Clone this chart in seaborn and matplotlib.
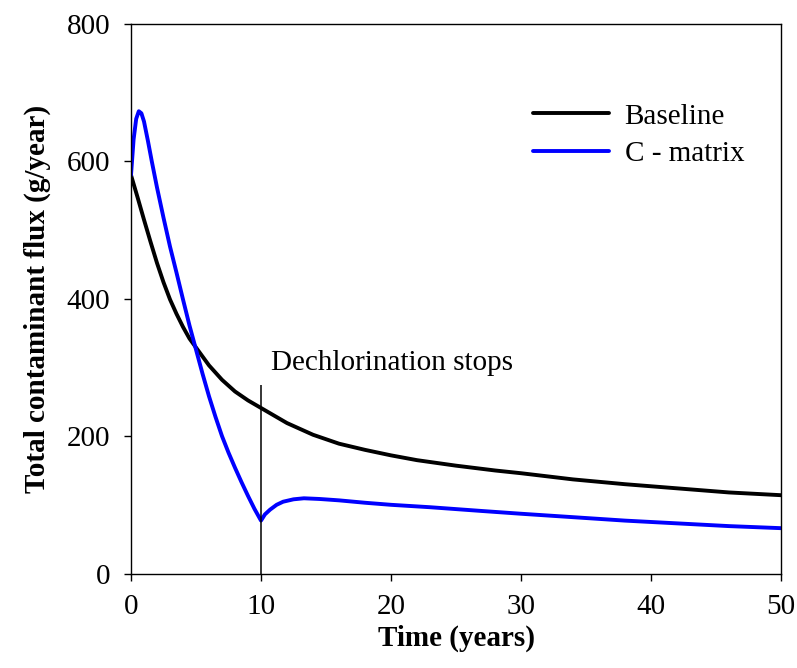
import numpy as np
import pandas as pd
import matplotlib
matplotlib.use("Agg")
import matplotlib.pyplot as plt
import seaborn as sns

# ---- data ----
time_baseline = [0, 0.5, 1, 1.5, 2, 2.5, 3, 3.5, 4, 4.5, 5, 6, 7, 8, 9, 10,
                 12, 14, 16, 18, 20, 22, 25, 28, 30, 34, 38, 42, 46, 50]
flux_baseline = [580, 548, 515, 483, 452, 424, 399, 378, 359, 342, 329, 303, 282, 265, 252, 241,
                 219, 202, 189, 180, 172, 165, 157, 150, 146, 137, 130, 124, 118, 114]

time_cmatrix = [0, 0.2, 0.4, 0.6, 0.8, 1.0, 1.3, 1.6, 2, 2.5, 3, 3.5, 4, 4.5, 5, 5.5, 6, 6.5,
                7, 7.5, 8, 8.5, 9, 9.5, 10, 10.3, 10.7, 11.2, 11.7, 12.5, 13.3, 14.5, 16, 18,
                20, 23, 27, 30, 34, 38, 42, 46, 50]
flux_cmatrix = [580, 632, 662, 673, 670, 658, 630, 600, 562, 518, 476, 438, 399, 361, 326, 291, 258, 228,
                200, 176, 154, 133, 113, 94, 77, 86, 93, 100, 104.5, 108, 109.5, 108.5, 106.5, 103,
                100, 96.5, 91, 87, 82, 77, 73, 69, 66]

series_names = ["Baseline", "C - matrix"]
event_time = 10
event_top = 275
event_label = "Dechlorination stops"

df = pd.concat([
    pd.DataFrame({"Time": time_baseline, "Flux": flux_baseline, "Series": series_names[0]}),
    pd.DataFrame({"Time": time_cmatrix, "Flux": flux_cmatrix, "Series": series_names[1]}),
], ignore_index=True)

sns.set_theme(style="ticks")
plt.rcParams["font.family"] = ["Liberation Serif", "DejaVu Serif"]
for k in ["text.color", "axes.labelcolor", "xtick.color", "ytick.color", "axes.edgecolor"]:
    plt.rcParams[k] = "black"

FS = 21
fig = plt.figure(figsize=(7.97, 6.68), dpi=100)
ax = fig.add_axes([131/797, 1 - 573.5/668, 650/797, 549.5/668])

sns.lineplot(data=df, x="Time", y="Flux", hue="Series",
             palette={"Baseline": "black", "C - matrix": "#0000ff"},
             linewidth=2.8, ax=ax, legend=True)

ax.vlines(event_time, 0, event_top, color="black", linewidth=1.1)
ax.text(10.8, 296, event_label, fontsize=FS, ha="left", va="baseline")

ax.set_xlim(0, 50)
ax.set_ylim(0, 800)
ax.set_xticks([0, 10, 20, 30, 40, 50])
ax.set_yticks([0, 200, 400, 600, 800])
ax.tick_params(axis="both", direction="out", length=5, width=1.0, labelsize=FS, color="black")
ax.tick_params(axis="y", pad=10)
ax.tick_params(axis="x", pad=10)
for s in ax.spines.values():
    s.set_visible(True)
    s.set_color("black")
    s.set_linewidth(1.0)

ax.set_xlabel("Time (years)", fontsize=FS, fontweight="bold", labelpad=3)
ax.set_ylabel("Total contaminant flux (g/year)", fontsize=FS, fontweight="bold", labelpad=11)

leg = ax.legend(loc="upper left", bbox_to_anchor=(0.618, 0.856), frameon=False,
                fontsize=FS, handlelength=2.6, handletextpad=0.55, labelspacing=0.38,
                borderpad=0, borderaxespad=0, title=None)
for h in leg.get_lines():
    h.set_linewidth(2.8)

fig.savefig("out.png", dpi=100)
